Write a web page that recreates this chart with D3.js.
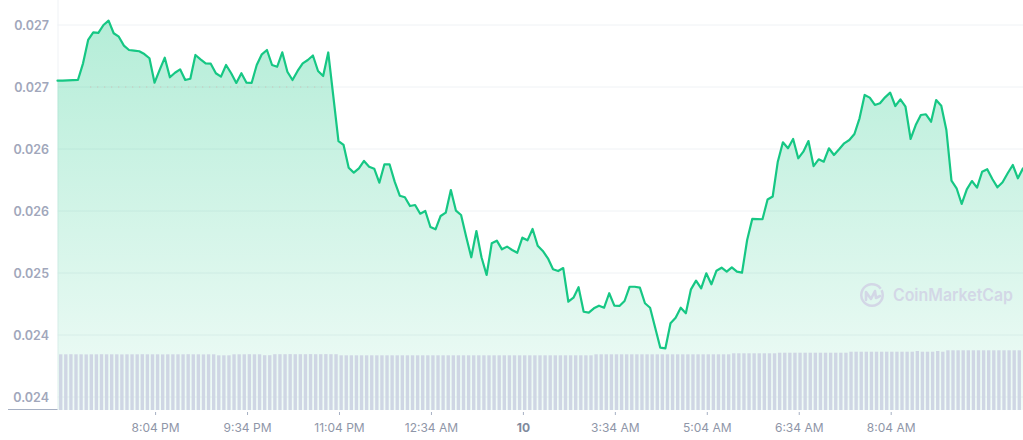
<!DOCTYPE html>
<html><head><meta charset="utf-8">
<script src="https://cdn.jsdelivr.net/npm/d3@7"></script>
<style>
body{margin:0;background:#fff;}
svg{display:block;font-family:Inter,"Noto Sans",sans-serif;}
</style>
</head><body>
<svg id="chart" width="1023" height="440"></svg>
<script>
// ---- data (5-minute samples) ----
const stepMinutes = 5;
const prices = [
0.026861,0.026862,0.026864,0.026866,0.026868,0.027029,0.027255,0.027329,0.027323,0.027400,
0.027442,0.027320,0.027287,0.027200,0.027158,0.027152,0.027146,0.027119,0.027078,0.026842,
0.026965,0.027084,0.026894,0.026938,0.026971,0.026868,0.026880,0.027110,0.027068,0.027029,
0.027026,0.026933,0.026900,0.027013,0.026933,0.026839,0.026933,0.026842,0.026839,0.027013,
0.027116,0.027158,0.027013,0.026996,0.027136,0.026948,0.026868,0.026955,0.027029,0.027061,
0.027105,0.026955,0.026906,0.027134,0.026706,0.026277,0.026239,0.026019,0.025971,0.026013,
0.026084,0.026029,0.026009,0.025874,0.026052,0.026052,0.025884,0.025748,0.025733,0.025648,
0.025658,0.025574,0.025600,0.025445,0.025423,0.025552,0.025584,0.025803,0.025603,0.025561,
0.025351,0.025152,0.025406,0.025152,0.024981,0.025287,0.025313,0.025229,0.025255,0.025223,
0.025196,0.025342,0.025316,0.025426,0.025264,0.025213,0.025142,0.025036,0.025019,0.025048,
0.024722,0.024761,0.024862,0.024625,0.024616,0.024658,0.024684,0.024664,0.024804,0.024684,
0.024681,0.024729,0.024867,0.024867,0.024858,0.024707,0.024664,0.024471,0.024277,0.024271,
0.024513,0.024567,0.024664,0.024610,0.024842,0.024926,0.024852,0.024997,0.024891,0.025022,
0.025051,0.025013,0.025055,0.025013,0.025003,0.025319,0.025523,0.025521,0.025520,0.025711,
0.025740,0.026077,0.026265,0.026207,0.026297,0.026110,0.026174,0.026277,0.026035,0.026100,
0.026077,0.026207,0.026142,0.026197,0.026255,0.026287,0.026345,0.026497,0.026723,0.026697,
0.026626,0.026642,0.026700,0.026745,0.026616,0.026681,0.026609,0.026297,0.026432,0.026529,
0.026536,0.026464,0.026674,0.026619,0.026384,0.025893,0.025820,0.025668,0.025810,0.025890,
0.025826,0.025980,0.026004,0.025910,0.025829,0.025878,0.025965,0.026045,0.025916,0.026013
];
const volumes = [
55.7,55.7,55.8,55.7,55.7,55.6,55.7,55.7,55.8,55.7,
55.7,55.7,55.6,55.7,55.7,55.7,55.8,55.7,55.7,55.7,
55.6,55.7,55.7,55.7,55.7,55.8,55.7,55.7,55.6,55.7,
55.7,54.7,54.7,54.7,55.7,55.7,55.7,55.8,55.7,55.7,
54.8,54.8,55.8,55.8,55.8,55.9,55.8,55.8,55.8,55.9,
55.8,55.8,55.9,55.8,55.8,54.7,54.7,54.7,54.7,54.7,
54.7,54.7,54.7,54.7,54.7,54.7,54.7,54.7,54.7,54.7,
54.7,54.7,54.7,54.7,54.7,54.7,54.7,54.7,54.7,54.7,
54.7,54.7,54.7,54.7,54.7,54.7,54.7,54.7,54.7,54.7,
54.7,54.7,54.7,54.7,54.7,54.7,54.7,54.7,54.7,54.7,
54.7,54.7,54.7,54.7,54.7,55.7,55.7,55.7,55.7,55.7,
55.7,55.7,55.7,55.7,55.7,55.7,55.7,55.7,55.7,55.7,
55.7,55.7,55.7,55.7,55.7,55.7,55.7,55.7,55.7,55.7,
55.7,55.7,56.7,56.7,56.7,56.7,56.7,56.7,56.7,56.7,
56.7,57.3,57.3,57.3,57.3,57.3,57.3,57.3,57.3,57.3,
57.3,57.3,57.3,57.3,57.3,58.3,58.3,58.3,58.3,58.3,
58.3,58.3,58.3,58.3,58.3,58.3,58.3,58.3,59.0,58.3,
58.3,58.3,59.0,58.3,59.7,59.7,59.7,59.7,59.7,59.7,
59.7,59.7,59.7,59.7,59.7,59.7,59.7,59.7,59.7
];
const yTicks = [0.0238,0.0244,0.0250,0.0256,0.0262,0.0268,0.0274];
const xTickMinutes = [96,186,276,366,456,546,636,726,816];
const xTickLabels = ["8:04 PM","9:34 PM","11:04 PM","12:34 AM","10","3:34 AM","5:04 AM","6:34 AM","8:04 AM"];
const boldTickLabels = ["10"];
const openPrice = 0.0268;
const watermark = "CoinMarketCap";

// ---- chart ----
(function () {
const svg = d3.select("#chart");
const green = "#16c784";
const mLeft = 57.5, mRight = 1023, mTop = 25, mBase = 397, mBottom = 410;

const x = d3.scaleLinear().domain([0, (prices.length - 1) * stepMinutes]).range([mLeft, mRight]);
const y = d3.scaleLinear().domain([yTicks[0], yTicks[yTicks.length - 1]]).range([mBase, mTop]);
const yVol = d3.scaleLinear().domain([0, 60]).range([mBottom, mBottom - 60]);
const xBand = d3.scaleBand().domain(d3.range(volumes.length)).range([mLeft + 0.5, mRight - 1]).paddingInner(0.34).paddingOuter(0.2);

const defs = svg.append("defs");
const grad = defs.append("linearGradient").attr("id", "areaGrad")
  .attr("gradientUnits", "userSpaceOnUse").attr("x1", 0).attr("x2", 0)
  .attr("y1", y(d3.max(prices))).attr("y2", mBottom);
grad.append("stop").attr("offset", "0%").attr("stop-color", green).attr("stop-opacity", 0.32);
grad.append("stop").attr("offset", "100%").attr("stop-color", green).attr("stop-opacity", 0.06);

// gridlines
svg.append("g").selectAll("line").data(yTicks).join("line")
  .attr("x1", mLeft).attr("x2", mRight)
  .attr("y1", d => y(d)).attr("y2", d => y(d))
  .attr("stroke", "#eff2f5").attr("stroke-width", 1);

// left border
svg.append("line").attr("x1", mLeft + 0.5).attr("x2", mLeft + 0.5).attr("y1", 0).attr("y2", mBottom)
  .attr("stroke", "#eff2f5");

// area
const area = d3.area().x((d, i) => x(i * stepMinutes)).y0(mBottom).y1(d => y(d));
svg.append("path").datum(prices).attr("d", area).attr("fill", "url(#areaGrad)");

// open price dotted line
svg.append("line").attr("x1", x(32)).attr("x2", x(262))
  .attr("y1", y(openPrice)).attr("y2", y(openPrice))
  .attr("stroke", "#d8a9a9").attr("stroke-width", 1).attr("stroke-dasharray", "1,6").attr("opacity", 0.7);

// volume bars
svg.append("g").selectAll("rect").data(volumes).join("rect")
  .attr("x", (d, i) => xBand(i)).attr("width", xBand.bandwidth())
  .attr("y", d => yVol(d)).attr("height", d => mBottom - yVol(d))
  .attr("fill", "#cfd6e4");

// price line
const line = d3.line().x((d, i) => x(i * stepMinutes)).y(d => y(d));
svg.append("path").datum(prices).attr("d", line)
  .attr("fill", "none").attr("stroke", green).attr("stroke-width", 2.2)
  .attr("stroke-linejoin", "round").attr("stroke-linecap", "round");

// y axis labels
svg.append("g").selectAll("text").data(yTicks).join("text")
  .attr("x", 49).attr("y", d => y(d)).attr("dy", "0.36em")
  .attr("text-anchor", "end").attr("font-size", 12.5).attr("font-weight", 600)
  .attr("fill", "#a1a7bb").text(d => d3.format(".3f")(d));

// bottom left axis line
svg.append("line").attr("x1", 8).attr("x2", mLeft).attr("y1", 409.5).attr("y2", 409.5)
  .attr("stroke", "#a6b0c3").attr("stroke-width", 1);

// x axis ticks and labels
const xa = svg.append("g");
xa.selectAll("line").data(xTickMinutes).join("line")
  .attr("x1", d => x(d)).attr("x2", d => x(d)).attr("y1", 412).attr("y2", 415)
  .attr("stroke", "#a6b0c3").attr("stroke-width", 1);
xa.selectAll("text").data(xTickMinutes).join("text")
  .attr("x", d => x(d)).attr("y", 432)
  .attr("text-anchor", "middle").attr("font-size", 12)
  .attr("font-weight", (d, i) => boldTickLabels.includes(xTickLabels[i]) ? 700 : 400)
  .attr("fill", (d, i) => boldTickLabels.includes(xTickLabels[i]) ? "#808a9d" : "#8f96a8")
  .text((d, i) => xTickLabels[i]);

// watermark
const wm = svg.append("g").attr("transform", "translate(872,295)");
wm.append("path")
  .attr("d", d3.arc()({innerRadius: 9.5, outerRadius: 12, startAngle: 0.35 * Math.PI, endAngle: 2.3 * Math.PI}))
  .attr("fill", "#d3d7e6");
wm.append("path").attr("d", "M-6,5 L-6,-3 L-1,4 L3,-4 L4,3 L8,1")
  .attr("fill", "none").attr("stroke", "#d3d7e6").attr("stroke-width", 2.6)
  .attr("stroke-linejoin", "round").attr("stroke-linecap", "round");
svg.append("text").attr("x", 893).attr("y", 301)
  .attr("font-size", 17).attr("font-weight", 600).attr("fill", "#d3d7e6")
  .attr("textLength", 120).attr("lengthAdjust", "spacingAndGlyphs")
  .text(watermark);
})();
</script>
</body></html>
